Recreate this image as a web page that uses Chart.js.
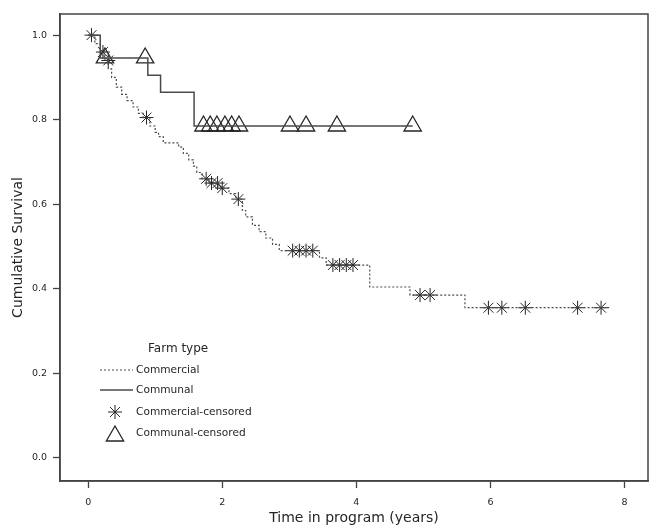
<!DOCTYPE html>
<html>
<head>
<meta charset="utf-8">
<script src="https://cdn.jsdelivr.net/npm/chart.js@4.4.1/dist/chart.umd.min.js"></script>
<style>
  html, body { margin: 0; padding: 0; background: #fff; }
  #wrap { width: 651px; height: 529px; }
</style>
</head>
<body>
<div id="wrap"><canvas id="km"></canvas></div>
<script>
// Kaplan-Meier steps (time in years, cumulative survival)
const commercialTimes = [0, 0.1, 0.18, 0.25, 0.3, 0.35, 0.42, 0.5, 0.58, 0.67, 0.75, 0.82, 0.92, 1.0, 1.05, 1.12,
  1.35, 1.42, 1.5, 1.57, 1.62, 1.7, 1.8, 1.95, 2.1, 2.2, 2.3, 2.35, 2.45, 2.55, 2.65, 2.75, 2.85, 3.45, 3.55,
  4.2, 4.8, 5.62, 7.77];
const commercialSurv = [1.0, 0.98, 0.96, 0.94, 0.92, 0.90, 0.877, 0.86, 0.845, 0.83, 0.815, 0.805, 0.785, 0.77, 0.76, 0.745,
  0.735, 0.72, 0.705, 0.69, 0.675, 0.66, 0.65, 0.638, 0.625, 0.612, 0.585, 0.57, 0.55, 0.535, 0.52, 0.505, 0.49, 0.473, 0.456,
  0.404, 0.385, 0.355, 0.355];

const communalTimes = [0, 0.18, 0.89, 1.08, 1.58, 4.84];
const communalSurv = [1.0, 0.946, 0.905, 0.865, 0.785, 0.785];

// censored observations
const commercialCensTimes = [0.05, 0.22, 0.3, 0.87, 1.76, 1.84, 1.93, 2.0, 2.24, 3.05, 3.15, 3.25, 3.35,
  3.65, 3.75, 3.85, 3.95, 4.95, 5.1, 5.97, 6.17, 6.52, 7.3, 7.65];
const commercialCensSurv = [1.0, 0.96, 0.94, 0.805, 0.66, 0.65, 0.65, 0.638, 0.612, 0.49, 0.49, 0.49, 0.49,
  0.456, 0.456, 0.456, 0.456, 0.385, 0.385, 0.355, 0.355, 0.355, 0.355, 0.355];

const communalCensTimes = [0.25, 0.85, 1.72, 1.82, 1.92, 2.04, 2.14, 2.25, 3.01, 3.25, 3.71, 4.84];
const communalCensSurv = [0.946, 0.946, 0.785, 0.785, 0.785, 0.785, 0.785, 0.785, 0.785, 0.785, 0.785, 0.785];

const xTicks = [0, 2, 4, 6, 8];
const yTicks = [0, 0.2, 0.4, 0.6, 0.8, 1.0];

const legendTitle = 'Farm type';
const legendLabels = ['Commercial', 'Communal', 'Commercial-censored', 'Communal-censored'];

const ink = '#262626';
const lineInk = '#4a4a4a';
const font = 'DejaVu Sans';

function toPoints(xs, ys) {
  return xs.map((x, i) => ({ x: x, y: ys[i] }));
}

// box round the plot + legend inside it
const framePlugin = {
  id: 'frame',
  afterDraw(chart) {
    const ctx = chart.ctx;
    const a = chart.chartArea;
    ctx.save();
    ctx.strokeStyle = '#444';
    ctx.lineWidth = 1.5;
    ctx.strokeRect(a.left, a.top, a.right - a.left, a.bottom - a.top);

    // legend
    const lx = a.left + 40, tx = a.left + 76;
    ctx.fillStyle = ink;
    ctx.textBaseline = 'middle';
    ctx.font = '12px "' + font + '"';
    ctx.fillText(legendTitle, a.left + 88, 349);

    ctx.font = '10.6px "' + font + '"';
    const rows = [370, 390, 412, 433];

    ctx.strokeStyle = lineInk;
    ctx.lineWidth = 1.2;
    ctx.setLineDash([2, 2]);
    ctx.beginPath(); ctx.moveTo(lx, rows[0]); ctx.lineTo(lx + 33, rows[0]); ctx.stroke();
    ctx.setLineDash([]);
    ctx.lineWidth = 1.5;
    ctx.beginPath(); ctx.moveTo(lx, rows[1]); ctx.lineTo(lx + 33, rows[1]); ctx.stroke();

    ctx.strokeStyle = ink;
    ctx.lineWidth = 1;
    Chart.helpers.drawPoint(ctx, { pointStyle: 'star', radius: 7, rotation: 0, borderWidth: 1 }, lx + 15, rows[2]);
    ctx.lineWidth = 1.3;
    ctx.fillStyle = 'rgba(255,255,255,0)';
    Chart.helpers.drawPoint(ctx, { pointStyle: 'triangle', radius: 10, rotation: 0, borderWidth: 1.3 }, lx + 15, rows[3] + 3);

    ctx.fillStyle = ink;
    legendLabels.forEach((t, i) => ctx.fillText(t, tx, rows[i]));
    ctx.restore();
  }
};

new Chart(document.getElementById('km'), {
  type: 'line',
  data: {
    datasets: [
      {
        label: legendLabels[0],
        data: toPoints(commercialTimes, commercialSurv),
        stepped: 'before',
        borderColor: lineInk,
        borderWidth: 1.2,
        borderDash: [2, 2],
        pointRadius: 0,
        fill: false
      },
      {
        label: legendLabels[1],
        data: toPoints(communalTimes, communalSurv),
        stepped: 'before',
        borderColor: lineInk,
        borderWidth: 1.5,
        pointRadius: 0,
        fill: false
      },
      {
        label: legendLabels[2],
        data: toPoints(commercialCensTimes, commercialCensSurv),
        showLine: false,
        pointStyle: 'star',
        pointRadius: 7,
        pointBorderWidth: 1,
        pointBorderColor: ink,
        pointBackgroundColor: ink
      },
      {
        label: legendLabels[3],
        data: toPoints(communalCensTimes, communalCensSurv),
        showLine: false,
        pointStyle: 'triangle',
        pointRadius: 10,
        pointBorderWidth: 1.3,
        pointBorderColor: ink,
        pointBackgroundColor: 'rgba(255,255,255,0)'
      }
    ]
  },
  options: {
    responsive: true,
    maintainAspectRatio: false,
    animation: false,
    layout: { autoPadding: false, padding: { top: 14, right: 3, left: 0, bottom: 0 } },
    plugins: {
      legend: { display: false },
      tooltip: { enabled: false }
    },
    scales: {
      x: {
        type: 'linear',
        min: -0.42,
        max: 8.35,
        afterBuildTicks: s => { s.ticks = xTicks.map(v => ({ value: v })); },
        afterFit: s => { s.height = 48; },
        ticks: {
          color: ink,
          padding: 9,
          font: { family: font, size: 9.5 },
          callback: v => String(v)
        },
        grid: { drawOnChartArea: false, drawTicks: true, tickLength: 7, color: '#444', tickWidth: 1.3 },
        border: { display: true, color: '#444', width: 1.5 },
        title: {
          display: true,
          text: 'Time in program (years)',
          color: ink,
          font: { family: font, size: 14 },
          padding: { top: 0, bottom: 2 }
        }
      },
      y: {
        type: 'linear',
        min: -0.055,
        max: 1.05,
        afterBuildTicks: s => { s.ticks = yTicks.map(v => ({ value: v })); },
        afterFit: s => { s.width = 60; },
        ticks: {
          color: ink,
          padding: 6,
          font: { family: font, size: 9.5 },
          callback: v => v.toFixed(1)
        },
        grid: { drawOnChartArea: false, drawTicks: true, tickLength: 7, color: '#444', tickWidth: 1.3 },
        border: { display: true, color: '#444', width: 1.5 },
        title: {
          display: true,
          text: 'Cumulative Survival',
          color: ink,
          font: { family: font, size: 14 },
          padding: { top: 10, bottom: 0 }
        }
      }
    }
  },
  plugins: [framePlugin]
});
</script>
</body>
</html>
